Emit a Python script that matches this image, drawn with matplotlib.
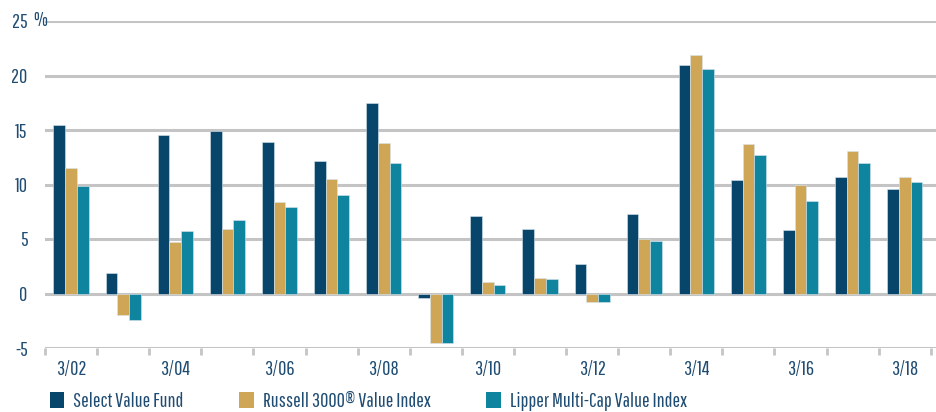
import matplotlib
matplotlib.use("Agg")
import matplotlib.pyplot as plt
import numpy as np
from matplotlib.patches import Patch
from matplotlib import font_manager as fm

categories = ["3/02", "3/03", "3/04", "3/05", "3/06", "3/07", "3/08", "3/09", "3/10",
              "3/11", "3/12", "3/13", "3/14", "3/15", "3/16", "3/17", "3/18"]
select_value = [15.5, 1.9, 14.5, 14.9, 13.9, 12.2, 17.5, -0.4, 7.1, 5.9, 2.7, 7.3, 21.0, 10.4, 5.8, 10.7, 9.6]
russell_value = [11.5, -2.0, 4.7, 5.9, 8.4, 10.5, 13.8, -4.5, 1.1, 1.4, -0.8, 5.0, 21.9, 13.7, 10.0, 13.1, 10.7]
lipper_value = [9.9, -2.4, 5.7, 6.7, 7.9, 9.0, 12.0, -4.5, 0.8, 1.3, -0.8, 4.8, 20.6, 12.7, 8.5, 12.0, 10.2]
series_names = ["Select Value Fund", "Russell 3000\u00AE Value Index", "Lipper Multi-Cap Value Index"]
yticks = [-5, 0, 5, 10, 15, 20, 25]

colors = ["#08456a", "#cfa556", "#0e849f"]
text_color = "#1f4c72"
grid_color = "#c4c4c4"

available = {f.name for f in fm.fontManager.ttflist}
prefs = ["Pathway Gothic One", "Roboto Condensed", "Archivo Narrow", "PT Sans Narrow",
         "Barlow Condensed", "IBM Plex Sans Condensed", "Liberation Sans Narrow"]
chosen = next((p for p in prefs if p in available), "DejaVu Sans")
plt.rcParams['font.family'] = [chosen, 'DejaVu Sans']
FS = 14.6

fig = plt.figure(figsize=(9.36, 4.12), dpi=100)
ax = fig.add_axes([45/936, 1-348/412, 1-45/936, (348-21)/412])

x = np.arange(len(categories))
w = 0.225
for i, vals in enumerate([select_value, russell_value, lipper_value]):
    ax.bar(x + (i-1)*w, vals, width=w, color=colors[i], edgecolor="#d9e6ee",
           linewidth=0.4, zorder=3)

ax.set_xlim(-0.5, 16.6)
ax.set_ylim(-5, 25)
for yv in yticks:
    ax.axhline(yv, color=grid_color, linewidth=2.2, zorder=1)

for s in ax.spines.values():
    s.set_visible(False)

ax.set_yticks(yticks)
ax.set_yticklabels([str(v) for v in yticks])
ax.tick_params(axis='y', length=0, pad=12.5, labelsize=FS, labelcolor=text_color)
fig.text(33/936, 1-21/412, "%", ha='left', va='center', fontsize=FS, color=text_color)

ax.set_xticks(np.arange(-0.5, 17, 1))
ax.set_xticklabels([])
ax.tick_params(axis='x', length=5, width=2, color=grid_color, direction='out')
for i in range(0, len(categories), 2):
    ax.text(x[i], -7.0, categories[i], ha='center', va='center', fontsize=FS,
            color=text_color, clip_on=False)

handles = [Patch(facecolor=c, edgecolor='none') for c in colors]
fig.legend(handles, series_names, loc='lower left', bbox_to_anchor=(50/936, 0.002),
           ncol=3, frameon=False, fontsize=FS, labelcolor=text_color,
           handlelength=0.7, handleheight=0.85, handletextpad=0.45, columnspacing=2.75,
           borderaxespad=0, borderpad=0)

fig.savefig("out.png", dpi=100)
